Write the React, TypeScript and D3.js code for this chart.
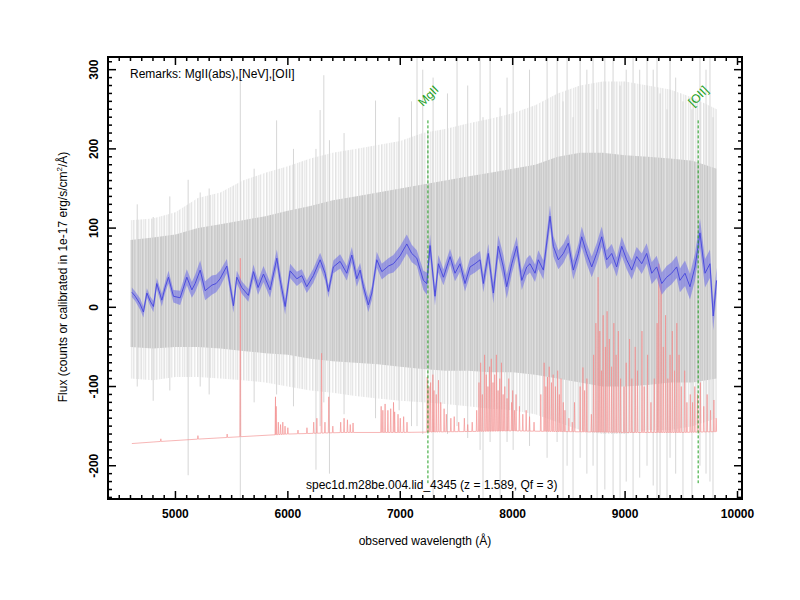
import React from 'react';
import * as d3 from 'd3';

// ---------------- data ----------------
const X_MAJOR_TICKS = [5000, 6000, 7000, 8000, 9000, 10000];
const Y_MAJOR_TICKS = [-200, -100, 0, 100, 200, 300];

// smoothed spectrum (blue)
const SMOOTH_WAVE = [4612,4642,4686,4715,4746,4775,4804,4834,4879,4908,4938,4982,5042,5101,5146,5175,5220,5264,5324,5362,5397,5457,5516,5546,5590,5649,5694,5735,5783,5842,5902,5931,5976,6020,6080,6124,6168,6227,6287,6331,6361,6405,6465,6524,6569,6613,6643,6672,6716,6747,6791,6836,6894,6939,6998,7058,7102,7147,7206,7236,7265,7309,7339,7384,7443,7487,7532,7576,7621,7665,7710,7739,7783,7828,7872,7917,7947,7992,8036,8081,8125,8154,8199,8228,8273,8332,8362,8406,8451,8495,8539,8584,8614,8658,8703,8747,8792,8836,8881,8925,8970,9014,9059,9103,9148,9192,9237,9281,9326,9370,9414,9459,9488,9533,9577,9622,9666,9711,9755,9784,9814];
const SMOOTH_FLUX = [19,14,4,-6,18,8,1,30,9,25,38,14,12,38,22,30,47,21,28,30,36,52,2,38,25,15,45,25,42,22,62,35,1,46,36,40,26,40,60,43,20,51,58,43,66,36,47,26,3,18,60,45,52,55,65,80,68,62,34,30,78,14,55,38,64,43,55,30,51,55,60,30,68,18,77,51,26,55,77,34,51,55,43,60,47,115,77,60,68,81,47,68,89,68,51,68,89,60,68,51,77,60,47,64,55,68,43,51,30,38,43,51,34,43,26,51,94,43,55,-11,34];
const SMOOTH_ERR = [6,6,7,7,6,6,7,7,8,7,8,8,9,10,10,11,12,12,12,11,10,9,9,8,8,8,9,9,10,10,11,11,10,9,9,8,8,9,9,9,8,8,9,9,10,10,9,9,9,9,10,10,10,11,12,12,11,10,12,14,14,12,11,10,10,10,10,10,11,11,11,11,12,13,14,15,15,13,12,12,11,11,11,12,12,14,13,12,12,12,12,12,13,13,13,13,13,12,12,12,12,12,12,12,13,13,14,14,14,14,14,14,15,16,16,17,18,18,18,18,16];

// raw spectrum (grey) summarised per 200 A bin
const GRAY_WAVE = [4600,4800,5000,5200,5400,5600,5800,6000,6200,6400,6600,6800,7000,7200,7400,7600,7800,8000,8200,8400,8600,8800,9000,9200,9400,9600,9815];
const GRAY_OUTER_HI = [110,112,120,138,145,160,170,178,188,195,200,205,210,220,225,232,238,245,255,270,280,285,285,280,275,265,250];
const GRAY_CORE_HI = [85,88,92,100,105,110,115,122,128,135,140,145,150,155,160,165,170,175,180,190,195,195,192,190,188,185,175];
const GRAY_CORE_LO = [-50,-52,-50,-50,-52,-55,-58,-60,-65,-68,-70,-72,-75,-78,-80,-80,-82,-82,-85,-90,-95,-100,-100,-98,-95,-95,-90];
const GRAY_OUTER_LO = [-90,-92,-88,-88,-90,-92,-95,-100,-105,-108,-112,-115,-118,-120,-122,-125,-128,-130,-135,-145,-155,-160,-160,-155,-155,-150,-140];

// isolated grey spikes: wavelength, top, bottom
const SPIKE_WAVE = [4660,4802,4950,5113,5220,5300,5577,5700,5900,6050,6250,6287,6320,6370,6500,6780,6990,7100,7149,7200,7292,7420,7505,7600,7710,7736,7799,7888,7950,8004,8150,8306,8395,8448,8484,8537,8600,8660,8715,8751,8820,8893,8955,9010,9071,9130,9195,9250,9284,9311,9373,9400,9450,9515,9595,9666,9720,9755,9782];
const SPIKE_HI = [130,114,140,161,145,150,290,175,236,200,200,249,293,211,220,261,240,260,316,300,290,270,316,280,316,240,316,252,290,316,300,316,316,260,316,240,316,300,316,250,316,316,280,300,316,300,316,300,316,270,250,316,290,260,250,316,300,316,240];
const SPIKE_LO = [-100,-118,-105,-212,-100,-110,-242,-120,-110,-125,-205,-150,-120,-210,-135,-140,-130,-150,-150,-160,-242,-160,-150,-165,-180,-242,-170,-242,-170,-180,-175,-190,-170,-242,-200,-242,-190,-210,-200,-242,-230,-242,-242,-220,-242,-215,-200,-225,-242,-242,-242,-190,-210,-242,-242,-200,-210,-220,-242];

// sky spectrum (red): continuum + emission lines
const SKY_BASE_WAVE = [4612,5000,5500,6000,6500,7000,7500,8000,8500,9000,9500,9815];
const SKY_BASE_FLUX = [-172,-168,-164,-160,-158,-158,-157,-156,-157,-158,-158,-157];
const SKY_LINE_WAVE = [4870,5200,5460,5577,5890,5896,5915,5935,5955,5975,6000,6090,6170,6230,6258,6300,6330,6364,6400,6470,6500,6530,6555,6580,6830,6845,6865,6890,6915,6940,6950,6980,7000,7030,7060,7240,7255,7270,7290,7300,7320,7340,7360,7390,7410,7450,7480,7520,7570,7600,7640,7680,7700,7715,7730,7750,7765,7780,7795,7810,7825,7840,7855,7870,7885,7900,7915,7930,7950,7965,7990,8000,8015,8030,8060,8090,8120,8150,8190,8250,8280,8295,8310,8325,8345,8360,8380,8400,8415,8430,8450,8465,8500,8530,8550,8600,8625,8640,8660,8700,8720,8740,8760,8775,8790,8805,8825,8840,8860,8880,8900,8920,8940,8960,8990,9010,9040,9060,9090,9110,9150,9170,9200,9230,9260,9285,9300,9320,9340,9360,9380,9400,9420,9440,9460,9480,9500,9530,9550,9580,9600,9620,9645,9670,9700,9730,9760,9790,9810];
const SKY_LINE_PEAK = [-166,-162,-160,62,-113,-125,-145,-148,-145,-150,-152,-155,-152,-145,-140,-58,-145,-113,-150,-145,-140,-142,-148,-146,-125,-130,-122,-130,-128,-120,-132,-135,-140,-138,-145,-88,-100,-95,-85,-105,-110,-92,-120,-128,-135,-140,-138,-145,-140,-148,-145,-130,-95,-70,-110,-60,-85,-100,-75,-65,-95,-85,-60,-105,-90,-70,-110,-100,-115,-90,-120,-105,-130,-110,-125,-135,-130,-138,-145,-110,-70,-100,-88,-75,-95,-85,-100,-80,-110,-90,-120,-130,-140,-145,-120,-100,-76,-105,-90,-135,-60,-20,38,-30,-80,-10,-50,-5,-40,-75,-20,-60,-30,-90,-100,-70,-40,-90,-50,-80,-30,-100,-60,-120,-90,-20,55,30,-50,-10,-90,-60,-30,-80,-20,-60,-100,-80,-120,-110,-120,-100,-110,-95,-125,-110,-130,-117,-140];

// identified lines
const LINE_NAMES = ['MgII', '[OII]'];
const LINE_WAVES = [7246, 9650];

const TITLE = 'spec1d.m28be.004.lid_4345 (z = 1.589, Qf = 3)';
const REMARKS = 'Remarks: MgII(abs),[NeV],[OII]';

// ---------------- layout / style ----------------
const W = 800, H = 600;
const L = 108, R = 742, T = 57, B = 499;
const FONT = '"Liberation Sans", Arial, Helvetica, sans-serif';

const CORE_STRIPES = ['#cacaca', '#d6d6d6', '#cfcfcf', '#dcdcdc', '#c8c8c8', '#d3d3d3', '#e0e0e0', '#cccccc', '#d1d1d1', '#d9d9d9', '#c9c9c9', '#d4d4d4', '#cdcdcd', '#dddddd', '#cbcbcb', '#d7d7d7', '#d0d0d0', '#c7c7c7', '#dadada', '#cecece', '#d5d5d5', '#e2e2e2', '#cbcbcb'];
const OUTER_STRIPES = ['#e8e8e8', '#f6f6f6', '#eeeeee', '#e4e4e4', '#fafafa', '#ececec', '#f3f3f3', '#e6e6e6', '#f8f8f8', '#fdfdfd', '#eaeaea', '#f4f4f4', '#ffffff', '#e3e3e3', '#f0f0f0', '#fbfbfb', '#ebebeb', '#f7f7f7', '#e7e7e7', '#f2f2f2', '#fcfcfc', '#e9e9e9', '#f5f5f5'];

export default function App() {
  const x = d3.scaleLinear().domain([4400, 10040]).range([L, R]);
  const y = d3.scaleLinear().domain([-242, 316]).range([B, T]);

  const gray = GRAY_WAVE.map((w, i) => ({ w, oh: GRAY_OUTER_HI[i], ch: GRAY_CORE_HI[i], cl: GRAY_CORE_LO[i], ol: GRAY_OUTER_LO[i] }));
  const outerArea = d3.area<any>().x(d => x(d.w)).y0(d => y(d.ol)).y1(d => y(d.oh))(gray) || '';
  const coreArea = d3.area<any>().x(d => x(d.w)).y0(d => y(d.cl)).y1(d => y(d.ch))(gray) || '';

  const n = Math.min(SMOOTH_WAVE.length, SMOOTH_FLUX.length, SMOOTH_ERR.length);
  const smooth = d3.range(n).map(i => ({ w: SMOOTH_WAVE[i], f: SMOOTH_FLUX[i], e: SMOOTH_ERR[i] }));
  const band = d3.area<any>().x(d => x(d.w)).y0(d => y(d.f - d.e)).y1(d => y(d.f + d.e))(smooth) || '';
  const blueLine = d3.line<any>().x(d => x(d.w)).y(d => y(d.f))(smooth) || '';

  const base = d3.scaleLinear().domain(SKY_BASE_WAVE).range(SKY_BASE_FLUX);
  const skyPts: [number, number][] = [];
  skyPts.push([SKY_BASE_WAVE[0], SKY_BASE_FLUX[0]]);
  SKY_LINE_WAVE.forEach((w, i) => {
    skyPts.push([w - 4, base(w - 4)]);
    skyPts.push([w, SKY_LINE_PEAK[i]]);
    skyPts.push([w + 4, base(w + 4)]);
  });
  skyPts.push([SKY_BASE_WAVE[SKY_BASE_WAVE.length - 1], SKY_BASE_FLUX[SKY_BASE_FLUX.length - 1]]);
  skyPts.sort((a, b) => a[0] - b[0]);
  const skyLine = d3.line<[number, number]>().x(d => x(d[0])).y(d => y(d[1]))(skyPts) || '';

  const xMinor = d3.range(4500, 10040, 100).filter(v => v % 1000 !== 0);
  const yMinor = d3.range(-240, 316, 10).filter(v => v % 100 !== 0);

  return (
    <svg width={W} height={H} style={{ position: 'absolute', left: 0, top: 0, display: 'block', background: '#fff' }} fontFamily={FONT}>
      <defs>
        <clipPath id="plot"><rect x={L} y={T} width={R - L} height={B - T} /></clipPath>
        <pattern id="corePat" patternUnits="userSpaceOnUse" x={0} y={0} width={CORE_STRIPES.length} height={10}>
          {CORE_STRIPES.map((c, i) => <rect key={i} x={i} y={0} width={1} height={10} fill={c} />)}
        </pattern>
        <pattern id="outerPat" patternUnits="userSpaceOnUse" x={0} y={0} width={OUTER_STRIPES.length} height={10}>
          {OUTER_STRIPES.map((c, i) => <rect key={i} x={i} y={0} width={1} height={10} fill={c} />)}
        </pattern>
      </defs>
      <g clipPath="url(#plot)">
        <path d={outerArea} fill="url(#outerPat)" />
        <path d={coreArea} fill="url(#corePat)" />
        {SPIKE_WAVE.map((w, i) => (
          <line key={i} x1={x(w)} x2={x(w)} y1={y(SPIKE_HI[i])} y2={y(SPIKE_LO[i])} stroke="#d6d6d6" strokeWidth={1} />
        ))}
        <path d={skyLine} fill="none" stroke="#f28a8a" strokeWidth={0.7} strokeOpacity={0.9} />
        <path d={band} fill="#6a6ae8" fillOpacity={0.55} />
        <path d={blueLine} fill="none" stroke="#4444dc" strokeWidth={0.9} />
        {LINE_WAVES.map((w, i) => (
          <g key={i}>
            <line x1={x(w)} x2={x(w)} y1={y(236)} y2={y(-222)} stroke="#22a022" strokeWidth={1} strokeDasharray="3,2" />
            <text x={x(w) - 5} y={107} fontSize={12} fill="#22a022" transform={`rotate(-45, ${x(w) - 5}, 107)`}>{LINE_NAMES[i]}</text>
          </g>
        ))}
      </g>

      <text x={130} y={78} fontSize={12} fill="#000">{REMARKS}</text>
      <text x={306} y={489} fontSize={12} fill="#000">{TITLE}</text>

      {/* ticks */}
      <g stroke="#000" strokeWidth={1.5}>
        {X_MAJOR_TICKS.map(v => (
          <g key={'xm' + v}>
            <line x1={x(v)} x2={x(v)} y1={B} y2={B - 8} />
            <line x1={x(v)} x2={x(v)} y1={T} y2={T + 8} />
          </g>
        ))}
        {xMinor.map(v => (
          <g key={'xn' + v}>
            <line x1={x(v)} x2={x(v)} y1={B} y2={B - 4} />
            <line x1={x(v)} x2={x(v)} y1={T} y2={T + 4} />
          </g>
        ))}
        {Y_MAJOR_TICKS.map(v => (
          <g key={'ym' + v}>
            <line x1={L} x2={L + 8} y1={y(v)} y2={y(v)} />
            <line x1={R} x2={R - 8} y1={y(v)} y2={y(v)} />
          </g>
        ))}
        {yMinor.map(v => (
          <g key={'yn' + v}>
            <line x1={L} x2={L + 4} y1={y(v)} y2={y(v)} />
            <line x1={R} x2={R - 4} y1={y(v)} y2={y(v)} />
          </g>
        ))}
      </g>
      <rect x={L} y={T} width={R - L} height={B - T} fill="none" stroke="#000" strokeWidth={2} />

      {X_MAJOR_TICKS.map(v => (
        <text key={'xl' + v} x={x(v)} y={518} fontSize={12} fontWeight="bold" textAnchor="middle">{v}</text>
      ))}
      {Y_MAJOR_TICKS.map(v => (
        <text key={'yl' + v} x={98} y={y(v)} fontSize={12} fontWeight="bold" textAnchor="middle" transform={`rotate(-90, 98, ${y(v)})`}>{v}</text>
      ))}

      <text x={425} y={545} fontSize={12} textAnchor="middle">observed wavelength (Å)</text>
      <text x={67} y={277} fontSize={12} textAnchor="middle" transform="rotate(-90, 67, 277)">
        Flux (counts or calibrated in 1e-17 erg/s/cm<tspan dy={-5} fontSize={8}>2</tspan><tspan dy={5}>/Å)</tspan>
      </text>
    </svg>
  );
}
